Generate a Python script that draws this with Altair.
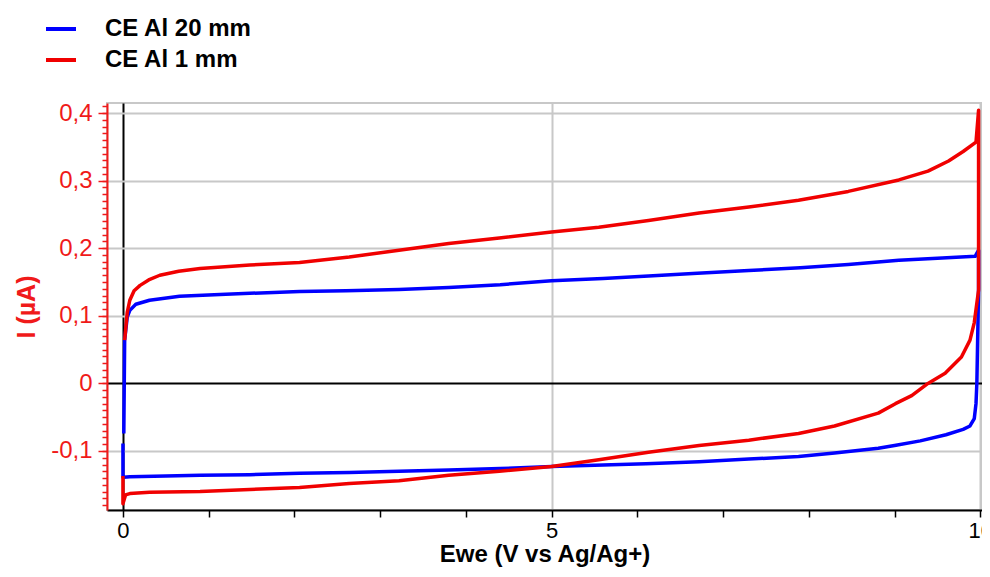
import altair as alt
import pandas as pd

series_names = ["CE Al 20 mm", "CE Al 1 mm"]
series_colors = ["#0000ff", "#f00000"]

blue_x = [0.01, 0.02, 0.05, 0.08, 0.15, 0.31, 0.66, 1.2, 2.06, 2.6, 3.22, 3.8, 4.4, 5.0,
          5.6, 6.13, 6.7, 7.3, 7.9, 8.46, 9.05, 9.5, 9.94, 9.98, 9.98, 9.96, 9.95, 9.93,
          9.88, 9.8, 9.6, 9.3, 9.0, 8.81, 8.3, 7.88, 7.3, 6.72, 6.1, 5.5, 5.0, 4.4, 3.8,
          3.22, 2.64, 2.06, 1.48, 0.9, 0.5, 0.08, 0.01, 0.0, 0.0]
blue_y = [-0.074, 0.064, 0.098, 0.108, 0.117, 0.123, 0.129, 0.132, 0.136, 0.137, 0.139,
          0.142, 0.146, 0.152, 0.155, 0.159, 0.163, 0.167, 0.171, 0.176, 0.182, 0.185,
          0.188, 0.197, 0.14, 0.0, -0.03, -0.052, -0.063, -0.068, -0.076, -0.085, -0.092,
          -0.096, -0.103, -0.108, -0.112, -0.116, -0.119, -0.121, -0.123, -0.126, -0.128,
          -0.130, -0.132, -0.133, -0.135, -0.136, -0.137, -0.138, -0.139, -0.139, -0.089]

red_x = [0.02, 0.05, 0.08, 0.13, 0.2, 0.3, 0.43, 0.65, 0.9, 1.48, 2.06, 2.64, 3.22, 3.8,
         4.39, 5.0, 5.55, 6.13, 6.72, 7.3, 7.88, 8.46, 9.05, 9.39, 9.63, 9.8, 9.95, 9.98,
         9.98, 9.98, 9.93, 9.88, 9.78, 9.59, 9.39, 9.2, 9.01, 8.81, 8.3, 7.88, 7.3, 6.72,
         6.13, 5.55, 5.0, 4.39, 3.8, 3.22, 2.64, 2.06, 1.48, 0.9, 0.31, 0.08, 0.03, 0.0, 0.0]
red_y = [0.064, 0.105, 0.123, 0.137, 0.145, 0.153, 0.16, 0.166, 0.17, 0.175, 0.179, 0.187,
         0.197, 0.207, 0.215, 0.224, 0.231, 0.241, 0.252, 0.261, 0.271, 0.284, 0.301, 0.314,
         0.329, 0.343, 0.357, 0.404, 0.20, 0.138, 0.09, 0.064, 0.039, 0.015, 0.0, -0.018,
         -0.03, -0.044, -0.063, -0.074, -0.084, -0.092, -0.102, -0.113, -0.123, -0.130,
         -0.136, -0.144, -0.148, -0.154, -0.157, -0.160, -0.161, -0.163, -0.165, -0.178, -0.137]

x_ticks = list(range(0, 11))
y_minor_ticks = [round(k * 0.01, 2) for k in range(-18, 42)]
y_major_ticks = [-0.1, 0.0, 0.1, 0.2, 0.3, 0.4]

rows = []
for name, xs, ys in [(series_names[0], blue_x, blue_y), (series_names[1], red_x, red_y)]:
    for i, (xv, yv) in enumerate(zip(xs, ys)):
        rows.append({"series": name, "idx": i, "E": xv, "I": yv})
df = pd.DataFrame(rows)

FONT = "Liberation Sans"
RED = "#f01a1a"
major = "abs(datum.value*10 - round(datum.value*10)) < 0.0001"
y_scale = alt.Scale(domain=[-0.1873, 0.4148], nice=False, zero=False)

x_enc = alt.X(
    "E:Q",
    scale=alt.Scale(domain=[-0.186, 10.02], nice=False, zero=False),
    axis=alt.Axis(
        title="Ewe (V vs Ag/Ag+)",
        values=x_ticks,
        labelExpr="datum.value % 5 == 0 ? datum.label : ''",
        labelFlush=False,
        labelOverlap=False,
        labelFontSize=22,
        labelColor="black",
        labelPadding=3,
        tickSize=7,
        tickColor="black",
        tickWidth=1.5,
        domainColor="black",
        domainWidth=2,
        grid=True,
        gridColor={"condition": {"test": "datum.value == 0", "value": "black"}, "value": "#c8c8c8"},
        gridOpacity={"condition": {"test": "datum.value % 5 == 0", "value": 1}, "value": 0},
        gridWidth=2,
        titleFontSize=24,
        titleFontWeight="bold",
        titleColor="black",
        titleY=32,
        titleBaseline="top",
    ),
)

y_enc = alt.Y(
    "I:Q",
    scale=y_scale,
    axis=alt.Axis(
        title="I (µA)",
        values=y_minor_ticks,
        labelExpr=f"{major} ? replace(replace(format(datum.value, '.1~f'), '.', ','), '\u2212', '-') : ''",
        labelOverlap=False,
        labelFlush=False,
        labelFontSize=24,
        labelColor=RED,
        labelPadding=10,
        tickSize=5,
        tickColor=RED,
        tickWidth=1.5,
        domainColor=RED,
        domainWidth=2,
        grid=True,
        gridColor={"condition": {"test": "abs(datum.value) < 0.0001", "value": "black"}, "value": "#c8c8c8"},
        gridOpacity={"condition": {"test": major, "value": 1}, "value": 0},
        gridWidth=2,
        titleFontSize=25,
        titleFontWeight="bold",
        titleColor=RED,
        titleX=-81,
        titleBaseline="middle",
    ),
)

y_major_enc = alt.Y(
    "I:Q",
    scale=y_scale,
    axis=alt.Axis(
        orient="left",
        title=None,
        values=y_major_ticks,
        labels=False,
        domain=False,
        grid=False,
        tickSize=9,
        tickColor=RED,
        tickWidth=1.5,
    ),
)

color_enc = alt.Color(
    "series:N",
    scale=alt.Scale(domain=series_names, range=series_colors),
    legend=alt.Legend(
        title=None,
        orient="none",
        legendX=-63,
        legendY=-91,
        symbolType="stroke",
        symbolSize=900,
        symbolStrokeWidth=4,
        labelFontSize=24,
        labelFontWeight="bold",
        labelColor="black",
        labelOffset=27,
        rowPadding=2,
        padding=0,
    ),
)

base = alt.Chart(df)
blue = base.transform_filter(alt.datum.series == series_names[0]).mark_line(
    strokeWidth=3.5, strokeJoin="round"
).encode(x=x_enc, y=y_enc, color=color_enc, order="idx:Q")
red = base.transform_filter(alt.datum.series == series_names[1]).mark_line(
    strokeWidth=3.5, strokeJoin="round"
).encode(x=x_enc, y=y_enc, color=color_enc, order="idx:Q")
major_ticks = base.mark_line(opacity=0).encode(x=x_enc, y=y_major_enc, detail="series:N")

chart = alt.layer(alt.layer(blue, red), major_ticks).resolve_scale(
    y="independent"
).properties(
    width=875,
    height=407,
    autosize=alt.AutoSizeParams(type="none"),
    padding={"left": 99, "top": 95, "right": 0, "bottom": 57},
).configure(
    font=FONT,
).configure_view(
    stroke="#c8c8c8",
    strokeWidth=2,
)

chart.save("out.html", embed_options={"renderer": "svg", "actions": False})
